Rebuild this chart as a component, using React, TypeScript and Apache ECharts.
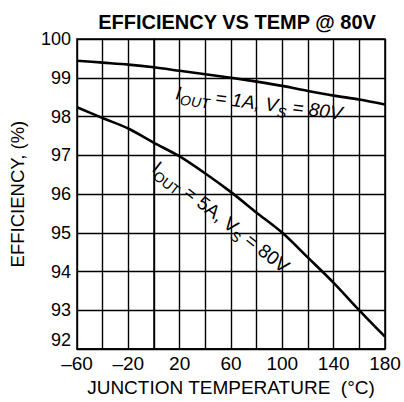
import React, { useEffect, useRef } from "react";
import * as echarts from "echarts";

const temps = [-60, -40, -20, 0, 20, 40, 60, 80, 100, 120, 140, 160, 180];
const eff1A = [99.44, 99.39, 99.34, 99.27, 99.18, 99.09, 99.0, 98.9, 98.79, 98.66, 98.54, 98.44, 98.31];
const eff5A = [98.24, 97.96, 97.69, 97.32, 96.97, 96.53, 96.05, 95.52, 95.0, 94.36, 93.71, 93.0, 92.32];
const xLabelStep = 40;
const titleText = "EFFICIENCY VS TEMP @ 80V";
const yName = "EFFICIENCY, (%)";
const xName = "JUNCTION TEMPERATURE  (°C)";
// label pieces: [text, isSubscript]
const label1A: [string, boolean][] = [["I", false], ["OUT", true], [" = 1A, V", false], ["S", true], [" = 80V", false]];
const label5A: [string, boolean][] = [["I", false], ["OUT", true], [" = 5A, V", false], ["S", true], [" = 80V", false]];

const FAMILY = "'Liberation Sans', Arial, Helvetica, sans-serif";
const MAIN_SIZE = 19;
const SUB_SIZE = 14;

function measure(text: string, size: number, italic: boolean): number {
  const c = document.createElement("canvas").getContext("2d");
  if (!c) return text.length * size * 0.55;
  c.font = `${italic ? "italic " : ""}${size}px ${FAMILY}`;
  return c.measureText(text).width;
}

function buildLabel(pieces: [string, boolean][], cx: number, cy: number, deg: number, italic: boolean) {
  const widths = pieces.map(([t, sub]) => measure(t, sub ? SUB_SIZE : MAIN_SIZE, italic));
  const total = widths.reduce((a, b) => a + b, 0);
  let x = -total / 2;
  const children: any[] = [
    {
      type: "rect",
      shape: { x: -total / 2 - 3, y: -11, width: total + 6, height: 25 },
      style: { fill: "#fff" },
    },
  ];
  pieces.forEach(([t, sub], i) => {
    children.push({
      type: "text",
      x,
      y: sub ? 6.5 : 0,
      style: {
        text: t,
        fontSize: sub ? SUB_SIZE : MAIN_SIZE,
        fontFamily: FAMILY,
        fontStyle: italic ? "italic" : "normal",
        fill: "#000",
        align: "left",
        verticalAlign: "middle",
      },
    });
    x += widths[i];
  });
  return {
    type: "group",
    x: cx,
    y: cy,
    rotation: (-deg * Math.PI) / 180,
    z: 10,
    children,
  };
}

export default function App() {
  const ref = useRef<HTMLDivElement>(null);
  useEffect(() => {
    if (!ref.current) return;
    const chart = echarts.init(ref.current, undefined, { renderer: "svg" });
    chart.setOption({
      animation: false,
      backgroundColor: "#fff",
      title: {
        text: titleText,
        left: 232,
        top: 7,
        textAlign: "center",
        textStyle: { fontFamily: FAMILY, fontWeight: "bold", fontSize: 20, color: "#000" },
      },
      grid: { left: 74, right: 19, top: 39, bottom: 48, show: true, borderColor: "#000", borderWidth: 1.5, backgroundColor: "transparent" },
      xAxis: {
        type: "value",
        min: -60,
        max: 180,
        interval: 20,
        name: xName,
        nameLocation: "middle",
        nameGap: 28,
        nameTextStyle: { fontFamily: FAMILY, fontSize: 19, color: "#000" },
        axisLine: { show: true, lineStyle: { color: "#000", width: 1.5 } },
        axisTick: { show: false },
        axisLabel: {
          fontFamily: FAMILY,
          fontSize: 19,
          color: "#000",
          margin: 5,
          formatter: (v: number) =>
            (v - temps[0]) % xLabelStep === 0 ? (v < 0 ? "\u2013" + Math.abs(v) : String(v)) : "",
        },
        splitLine: { show: true, lineStyle: { color: "#000", width: 1.4 } },
      },
      yAxis: {
        type: "value",
        min: 92,
        max: 100,
        interval: 1,
        name: yName,
        nameLocation: "middle",
        nameGap: 50,
        nameTextStyle: { fontFamily: FAMILY, fontSize: 18.5, color: "#000" },
        axisLine: { show: true, lineStyle: { color: "#000", width: 1.5 } },
        axisTick: { show: false },
        axisLabel: { fontFamily: FAMILY, fontSize: 18, color: "#000", margin: 6, verticalAlignMinLabel: "bottom" },
        splitLine: { show: true, lineStyle: { color: "#000", width: 1.4 } },
      },
      series: [
        {
          type: "line",
          data: temps.map((t, i) => [t, eff1A[i]]),
          smooth: 0.3,
          showSymbol: false,
          lineStyle: { color: "#000", width: 2.6 },
          z: 5,
        },
        {
          type: "line",
          data: temps.map((t, i) => [t, eff5A[i]]),
          smooth: 0.3,
          showSymbol: false,
          lineStyle: { color: "#000", width: 2.6 },
          z: 5,
        },
      ],
      graphic: [
        buildLabel(label1A, 259, 103, 7, true),
        buildLabel(label5A, 221, 217, 38, false),
      ],
    });
    return () => chart.dispose();
  }, []);
  return <div ref={ref} style={{ width: 404, height: 402, position: "absolute", left: 0, top: 0 }} />;
}
